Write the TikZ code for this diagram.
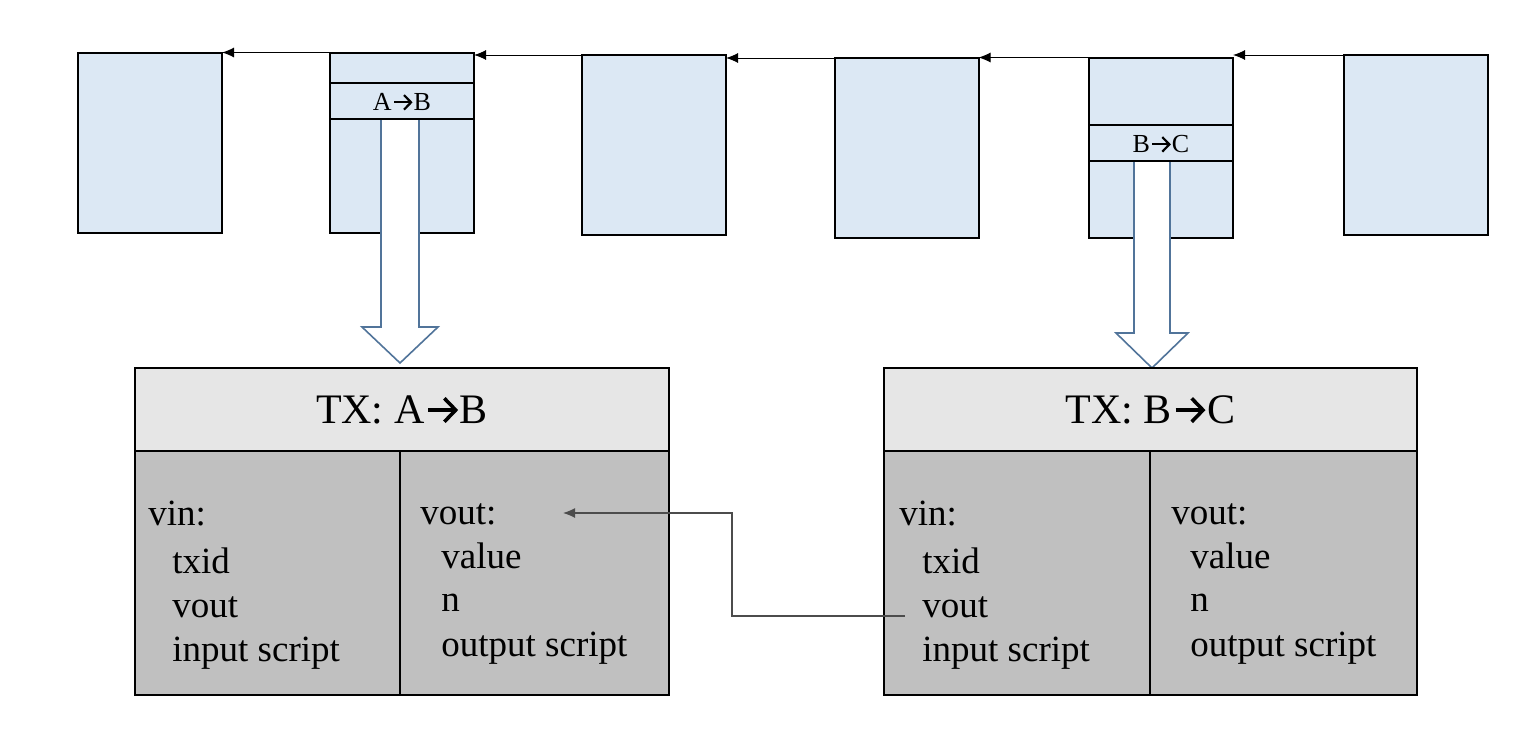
\documentclass[tikz,border=0pt]{standalone}
\usepackage{fontspec}
\setmainfont{Liberation Serif}
\usetikzlibrary{arrows.meta,calc}
\newcommand\rarr{\kern0.05em\tikz[baseline={(0,-0.31em)}]{%
  \draw[line width=0.085em, line cap=butt] (0,0) -- (0.62em,0);
  \draw[line width=0.085em, line join=miter, miter limit=10, line cap=butt] (0.38em,0.28em) -- (0.65em,0) -- (0.38em,-0.28em);}\kern0.06em}
\definecolor{blockblue}{HTML}{DCE8F4}
\definecolor{hdrgray}{HTML}{E6E6E6}
\definecolor{cellgray}{HTML}{C0C0C0}
\definecolor{steel}{HTML}{51749A}
\tikzset{
  blk/.style={draw=black, line width=1pt, fill=blockblue, inner sep=0pt, outer sep=0pt,
              minimum width=72pt, minimum height=90pt},
  hdr/.style={draw=black, line width=1pt, fill=hdrgray, inner sep=0pt, outer sep=0pt,
              minimum height=41.5pt, font=\fontsize{21}{25}\selectfont},
  cell/.style={draw=black, line width=1pt, fill=cellgray, inner sep=0pt, outer sep=0pt,
              minimum height=122pt},
  txt/.style={anchor=west, inner sep=0pt, font=\fontsize{18.5}{22}\selectfont},
  small/.style={inner sep=0pt, font=\fontsize{13}{15}\selectfont},
  chain/.style={line width=0.5pt, -{Latex[length=6pt,width=5pt]}},
  hollow/.style={draw=steel, line width=0.8pt, fill=white},
  link/.style={draw=black!70, line width=0.6pt, -{Latex[length=6pt,width=5pt]}},
}
\begin{document}
\begin{tikzpicture}[x=0.5pt,y=-0.5pt]
\useasboundingbox (0,0) rectangle (1516,744);
\fill[white] (0,0) rectangle (1516,744);

% top blocks
\node[blk] (b1) at (150,143) {};
\node[blk] (b2) at (402,142.5) {};
\node[blk] (b3) at (654,145) {};
\node[blk] (b4) at (906.5,148) {};
\node[blk] (b5) at (1161,147.5) {};
\node[blk] (b6) at (1415.5,145) {};

% chain arrows
\draw[chain] (b2.north west) -- (b1.north east |- b2.north west);
\draw[chain] (b3.north west) -- (b2.north east |- b3.north west);
\draw[chain] (b4.north west) -- (b3.north east |- b4.north west);
\draw[chain] (b5.north west) -- (b4.north east |- b5.north west);
\draw[chain] (b6.north west) -- (b5.north east |- b6.north west);

% hollow arrows
\fill[white] (381,119) -- (381,327) -- (362,327) -- (400,363) -- (438,327) -- (419,327) -- (419,119) -- cycle;
\draw[hollow] (381,119) -- (381,327) -- (362,327) -- (400,363) -- (438,327) -- (419,327) -- (419,119);
\fill[white] (1134,161) -- (1134,333) -- (1116,333) -- (1152,368) -- (1188,333) -- (1170,333) -- (1170,161) -- cycle;
\draw[hollow] (1134,161) -- (1134,333) -- (1116,333) -- (1152,368) -- (1188,333) -- (1170,333) -- (1170,161);

% dividers and labels in blocks
\draw[line width=1pt] (330,83) -- (474,83);
\draw[line width=1pt] (330,119) -- (474,119);
\node[small] (lab2) at (402,102) {A\rarr B};
\draw[line width=1pt] (1089,125) -- (1233,125);
\draw[line width=1pt] (1089,161) -- (1233,161);
\node[small] (lab5) at (1161,144) {B\rarr C};

% TX A->B
\node[hdr, minimum width=267pt] (h1) at (402,409.5) {TX: A\rarr B};
\node[cell, minimum width=132.5pt] (c1l) at (267.5,573) {};
\node[cell, minimum width=134.5pt] (c1r) at (534.5,573) {};
\node[txt] (v1) at (148,514) {vin:};
\node[txt] (v1a) at (172,561) {txid};
\node[txt] (v1b) at (172,607) {vout};
\node[txt] (v1c) at (172,653) {input script};
\node[txt] (o1) at (420,514) {vout:};
\node[txt] (o1a) at (441,556) {value};
\node[txt] (o1b) at (441,603) {n};
\node[txt] (o1c) at (441,648) {output script};

% TX B->C
\node[hdr, minimum width=266.5pt] (h2) at (1150.5,409.5) {TX: B\rarr C};
\node[cell, minimum width=133pt] (c2l) at (1017,573) {};
\node[cell, minimum width=133.5pt] (c2r) at (1283.5,573) {};
\node[txt] (v2) at (899,514) {vin:};
\node[txt] (v2a) at (922,561) {txid};
\node[txt] (v2b) at (922,607) {vout};
\node[txt] (v2c) at (922,653) {input script};
\node[txt] (o2) at (1171,514) {vout:};
\node[txt] (o2a) at (1190,556) {value};
\node[txt] (o2b) at (1190,603) {n};
\node[txt] (o2c) at (1190,648) {output script};

% link from vin.vout of B->C to vout of A->B
\coordinate (ls) at (905,616);
\coordinate (le) at (563,513);
\draw[link] (ls) -- (732,616) -- (732,513) -- (le);
\end{tikzpicture}
\end{document}
